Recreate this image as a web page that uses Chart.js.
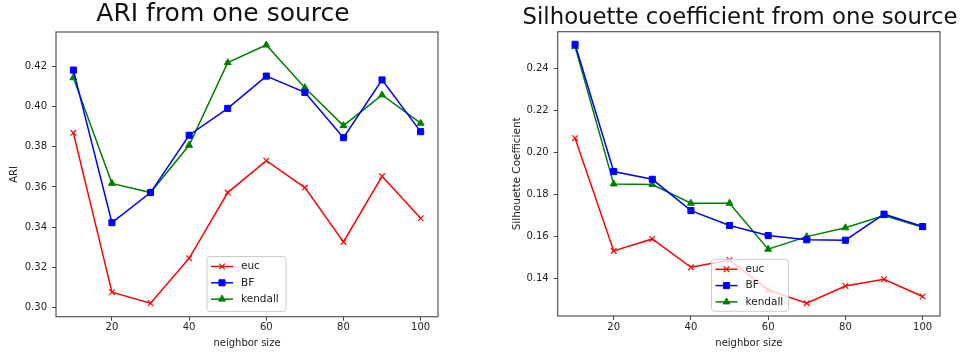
<!DOCTYPE html>
<html lang="en">
<head>
    <meta charset="UTF-8">
    <title>ARI / Silhouette from one source</title>
    <script src="https://cdn.jsdelivr.net/npm/chart.js"></script>
    <style>
        body { margin: 0; background: #fff; width: 964px; height: 359px; position: relative; overflow: hidden; }
        canvas { position: absolute; top: 0; }
        #ariChart { left: 0; }
        #silChart { left: 480px; }
    </style>
</head>
<body>
    <canvas id="ariChart" width="470" height="359"></canvas>
    <canvas id="silChart" width="484" height="359"></canvas>

    <script>
// data
const neighborSizes = [10, 20, 30, 40, 50, 60, 70, 80, 90, 100];
const xTicks = [20, 40, 60, 80, 100];

const ariEuc     = [0.387, 0.3075, 0.302, 0.3244, 0.3572, 0.3731, 0.3597, 0.3326, 0.3653, 0.3444];
const ariBF      = [0.4183, 0.3422, 0.3572, 0.3858, 0.3992, 0.4153, 0.4072, 0.3846, 0.4134, 0.3876];
const ariKendall = [0.4145, 0.3618, 0.3572, 0.3808, 0.422, 0.4308, 0.4095, 0.3906, 0.4059, 0.3918];
const ariTicks   = [0.30, 0.32, 0.34, 0.36, 0.38, 0.40, 0.42];

const silEuc     = [0.2067, 0.153, 0.1587, 0.1452, 0.1487, 0.1344, 0.1281, 0.1363, 0.1395, 0.1313];
const silBF      = [0.2514, 0.1908, 0.1871, 0.1722, 0.1651, 0.1603, 0.1583, 0.1581, 0.1705, 0.1646];
const silKendall = [0.2503, 0.1849, 0.1846, 0.1757, 0.1757, 0.1538, 0.1598, 0.164, 0.1698, 0.1643];
const silTicks   = [0.14, 0.16, 0.18, 0.20, 0.22, 0.24];

const FONT = "'DejaVu Sans', sans-serif";
const INK = '#222';

// builds the three series for one chart
function makeDatasets(euc, bf, kendall) {
    const pts = arr => arr.map((v, i) => ({ x: neighborSizes[i], y: v }));
    return [
        { label: 'euc', data: pts(euc), borderColor: '#ff0000', backgroundColor: '#ff0000',
          pointStyle: 'crossRot', pointRadius: 4, pointBorderWidth: 1.2 },
        { label: 'BF', data: pts(bf), borderColor: '#0000ff', backgroundColor: '#0000ff',
          pointStyle: 'rect', pointRadius: 4.3, pointBorderWidth: 1 },
        { label: 'kendall', data: pts(kendall), borderColor: '#008000', backgroundColor: '#008000',
          pointStyle: 'triangle', pointRadius: 4, pointBorderWidth: 1 }
    ].map(d => Object.assign(d, { borderWidth: 1.5, tension: 0, fill: false }));
}

// frame round the plot area, like matplotlib spines
const frame = {
    id: 'frame',
    afterDatasetsDraw(chart) {
        const a = chart.chartArea, ctx = chart.ctx;
        ctx.save();
        ctx.strokeStyle = '#555';
        ctx.lineWidth = 1.2;
        ctx.strokeRect(a.left, a.top, a.right - a.left, a.bottom - a.top);
        ctx.restore();
    }
};

// title text centred where the original puts it (it is wider than the plot)
const plotTitle = {
    id: 'plotTitle',
    afterDraw(chart, args, opts) {
        const ctx = chart.ctx;
        ctx.save();
        ctx.font = opts.size + 'px ' + FONT;
        ctx.fillStyle = '#111';
        ctx.textAlign = 'center';
        ctx.textBaseline = 'alphabetic';
        ctx.fillText(opts.text, opts.x, opts.y);
        ctx.restore();
    }
};

// legend box drawn inside the plot
const boxLegend = {
    id: 'boxLegend',
    afterDraw(chart, args, opts) {
        const ctx = chart.ctx;
        const b = opts.box;
        ctx.save();
        ctx.beginPath();
        ctx.roundRect(b.x, b.y, b.w, b.h, 3);
        ctx.fillStyle = 'rgba(255,255,255,0.8)';
        ctx.fill();
        ctx.strokeStyle = '#cccccc';
        ctx.lineWidth = 1;
        ctx.stroke();
        ctx.font = '10.5px ' + FONT;
        ctx.textBaseline = 'middle';
        chart.data.datasets.forEach((ds, i) => {
            const y = b.y + 10 + i * 16.3;
            const x0 = b.x + 4, x1 = b.x + 26;
            ctx.strokeStyle = ds.borderColor;
            ctx.lineWidth = 1.5;
            ctx.beginPath();
            ctx.moveTo(x0, y);
            ctx.lineTo(x1, y);
            ctx.stroke();
            ctx.fillStyle = ds.backgroundColor;
            ctx.lineWidth = ds.pointBorderWidth;
            Chart.helpers.drawPoint(ctx, { pointStyle: ds.pointStyle, radius: ds.pointRadius, rotation: 0, borderWidth: ds.pointBorderWidth }, (x0 + x1) / 2, y);
            ctx.fillStyle = INK;
            ctx.fillText(ds.label, b.x + 34, y);
        });
        ctx.restore();
    }
};

function createChart(id, cfg) {
    return new Chart(document.getElementById(id), {
        type: 'line',
        data: { datasets: makeDatasets(cfg.euc, cfg.bf, cfg.kendall) },
        plugins: [frame, boxLegend, plotTitle],
        options: {
            responsive: false,
            animation: false,
            layout: { padding: cfg.padding },
            plugins: {
                legend: { display: false },
                tooltip: { enabled: false },
                title: { display: false },
                plotTitle: cfg.title,
                boxLegend: { box: cfg.legendBox }
            },
            scales: {
                x: {
                    type: 'linear',
                    min: 5.5,
                    max: 104.5,
                    afterBuildTicks: s => { s.ticks = xTicks.map(v => ({ value: v })); },
                    afterFit: s => { s.height = 359 - cfg.areaBottom; },
                    grid: { display: true, drawOnChartArea: false, tickLength: 4, color: '#444', tickWidth: 1 },
                    border: { display: false },
                    ticks: { color: INK, padding: 1, maxRotation: 0, font: { family: FONT, size: 10 } },
                    title: { display: true, text: 'neighbor size', color: INK,
                             font: { family: FONT, size: 10 }, padding: { top: 0, bottom: 10 } }
                },
                y: {
                    min: cfg.yMin,
                    max: cfg.yMax,
                    afterBuildTicks: s => { s.ticks = cfg.yTicks.map(v => ({ value: v })); },
                    afterFit: s => { s.width = cfg.yWidth; },
                    grid: { display: true, drawOnChartArea: false, tickLength: 4, color: '#444', tickWidth: 1 },
                    border: { display: false },
                    ticks: { color: INK, padding: 5, font: { family: FONT, size: 10 },
                             callback: v => v.toFixed(2) },
                    title: { display: true, text: cfg.yLabel, color: INK,
                             font: { family: FONT, size: cfg.yLabelSize }, padding: { top: cfg.yLabelPad, bottom: 0 } }
                }
            }
        }
    });
}

document.addEventListener('DOMContentLoaded', function () {
    createChart('ariChart', {
        title: { text: 'ARI from one source', size: 25, x: 223, y: 21 },
        euc: ariEuc, bf: ariBF, kendall: ariKendall,
        yMin: 0.2953, yMax: 0.4373, yTicks: ariTicks,
        yLabel: 'ARI', yLabelSize: 10, yLabelPad: 8, yWidth: 56,
        padding: { left: 0, right: 32, top: 32, bottom: 0 },
        areaBottom: 316.7,
        legendBox: { x: 207, y: 256.5, w: 79, h: 55 }
    });
    createChart('silChart', {
        title: { text: 'Silhouette coefficient from one source', size: 22.8, x: 260, y: 24 },
        euc: silEuc, bf: silBF, kendall: silKendall,
        yMin: 0.122, yMax: 0.2574, yTicks: silTicks,
        yLabel: 'Silhouette Coefficient', yLabelSize: 10.5, yLabelPad: 31, yWidth: 77.7,
        padding: { left: 0, right: 24, top: 31.7, bottom: 0 },
        areaBottom: 316,
        legendBox: { x: 231.5, y: 259.3, w: 77, h: 52 }
    });
});
    </script>
</body>
</html>
